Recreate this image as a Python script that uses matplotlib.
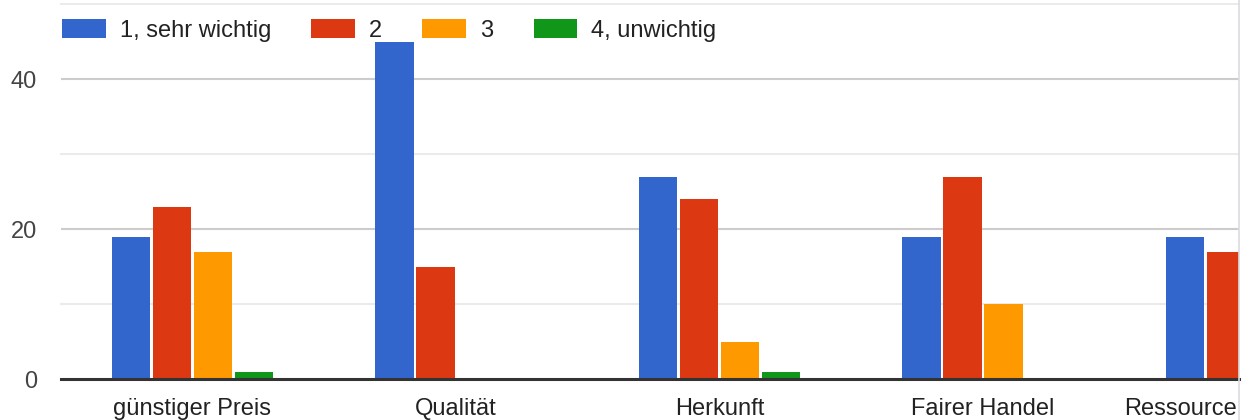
import numpy as np
import matplotlib
matplotlib.use("Agg")
import matplotlib.pyplot as plt
import matplotlib.transforms as mtrans
from matplotlib.patches import Patch
from matplotlib.lines import Line2D

categories = ["günstiger Preis", "Qualität", "Herkunft", "Fairer Handel", "Ressource"]
series_names = ["1, sehr wichtig", "2", "3", "4, unwichtig"]
s1 = [19, 45, 27, 19, 19]
s2 = [23, 15, 24, 27, 17]
s3 = [17, 0, 5, 10, np.nan]   # last value hidden (cut off in reference)
s4 = [1, 0, 1, 0, np.nan]     # last value hidden (cut off in reference)
series = [s1, s2, s3, s4]
colors = ["#3366cc", "#dc3912", "#ff9900", "#109618"]
y_ticks = [0, 20, 40]

plt.rcParams['font.family'] = ['Liberation Sans', 'DejaVu Sans']
FS = 17

W, H = 1252, 420
fig = plt.figure(figsize=(W/100, H/100), dpi=100)
ax = fig.add_axes([60.5/W, 41/H, (1238.5-60.5)/W, 375/H])

x = np.arange(len(categories))
step = 0.1556
bw = 0.146
for i, (vals, c) in enumerate(zip(series, colors)):
    ax.bar(x + (i - 1.5)*step, np.array(vals, dtype=float), width=bw, color=c,
           linewidth=0, zorder=3)

ax.set_xlim(-0.5, 3.97)
ax.set_ylim(0, 50)

for v in [10, 30, 50]:
    ax.axhline(v, color="#ebebeb", lw=1.5, zorder=1, clip_on=False)
for v in [20, 40]:
    ax.axhline(v, color="#cccccc", lw=1.5, zorder=1)
ax.axhline(0, color="#333333", lw=2.2, zorder=4, clip_on=False)

for s in ax.spines.values():
    s.set_visible(False)

ax.set_yticks(y_ticks)
ax.set_yticklabels([str(t) for t in y_ticks])
ax.tick_params(axis='y', length=0, pad=17, labelsize=FS, labelcolor="#444444")

# first four category labels centred under their groups
xpad = 13.5
ax.set_xticks(x[:4])
ax.set_xticklabels(categories[:4])
ax.tick_params(axis='x', length=0, pad=xpad, labelsize=FS, labelcolor="#222222")
# last category is cut by the container edge in the reference: keep it flush right
tr = mtrans.offset_copy(ax.transAxes, fig=fig, x=-1.5, y=-xpad, units='points')
ax.text(1.0, 0.0, categories[4], transform=tr, ha='right', va='top',
        fontsize=FS, color="#222222")

handles = [Patch(facecolor=c, edgecolor='none') for c in colors]
fig.legend(handles, series_names, loc='upper left', ncol=4,
           bbox_to_anchor=(62/W, 1 - 19/H), frameon=False,
           fontsize=FS, handlelength=1.86, handleheight=0.89,
           handletextpad=0.59, columnspacing=1.7, borderpad=0,
           borderaxespad=0, labelcolor="#222222")

fig.add_artist(Line2D([1238.5/W, 1238.5/W], [0, 1], transform=fig.transFigure,
                      color="#dadce0", lw=1.2, zorder=11))

fig.savefig("out.png", dpi=100)
